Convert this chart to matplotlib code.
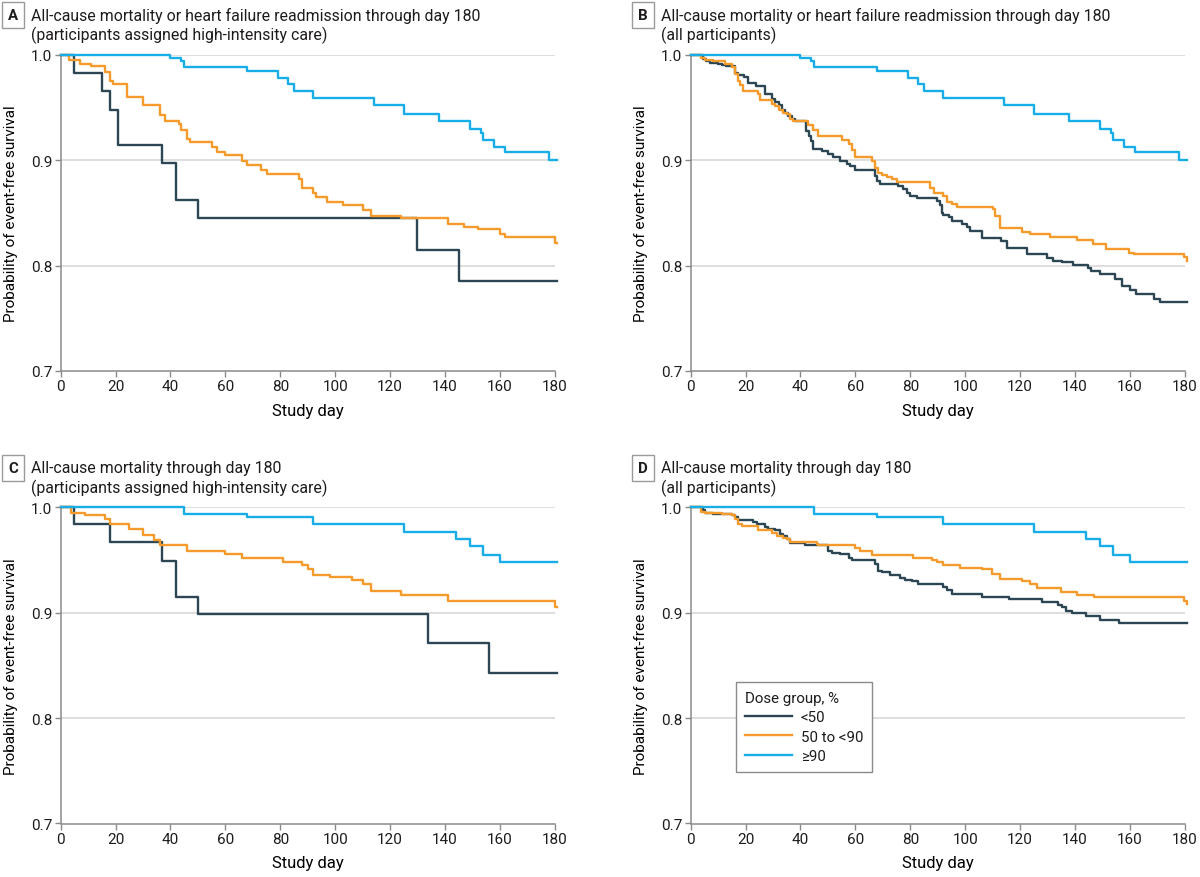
import matplotlib.pyplot as plt
from matplotlib.lines import Line2D

# Panel A / B / C / D : Kaplan-Meier style step data (day, survival)
# >=90 % dose group is the same in A and B, and in C and D
days_hi_ab = [0, 40, 44, 45, 68, 79, 83, 85, 92, 114, 125, 138, 149, 153, 154, 158, 162, 178, 181]
surv_hi_ab = [1.0, 0.997, 0.994, 0.988, 0.985, 0.978, 0.972, 0.966, 0.959, 0.952, 0.944, 0.937,
              0.930, 0.926, 0.919, 0.912, 0.908, 0.900, 0.900]

days_hi_cd = [0, 45, 68, 92, 125, 144, 149, 154, 160, 181]
surv_hi_cd = [1.0, 0.994, 0.991, 0.984, 0.977, 0.970, 0.963, 0.955, 0.948, 0.948]

days_a_low = [0, 5, 15, 18, 21, 37, 42, 50, 130, 145, 181]
surv_a_low = [1.0, 0.983, 0.966, 0.948, 0.914, 0.897, 0.862, 0.845, 0.815, 0.785, 0.785]

days_a_mid = [0, 3, 7, 11, 16, 18, 19, 24, 30, 36, 38, 43, 44, 46, 47, 55, 57, 60, 66, 68, 73, 75,
              87, 88, 92, 93, 97, 103, 110, 113, 124, 141, 147, 152, 160, 162, 180, 181]
surv_a_mid = [1.0, 0.995, 0.991, 0.989, 0.984, 0.975, 0.972, 0.960, 0.952, 0.943, 0.937, 0.934,
              0.929, 0.920, 0.917, 0.912, 0.908, 0.905, 0.899, 0.895, 0.891, 0.887, 0.882, 0.874,
              0.869, 0.865, 0.860, 0.857, 0.853, 0.847, 0.845, 0.839, 0.837, 0.835, 0.830, 0.827,
              0.821, 0.821]

days_b_low = [0, 4.6, 5.5, 7, 10, 11.5, 13, 16, 17.4, 19.6, 21, 23.7, 27, 29.5, 30.7, 32, 33.2,
              34.4, 35.6, 36.8, 38, 42, 43, 44, 44.7, 47.8, 50, 52, 54.4, 57, 58, 60, 67, 67.8,
              69, 75.7, 77.5, 78.7, 80, 82.4, 89.7, 90.9, 91.5, 92.1, 94, 95.2, 98.8, 100.6, 101.8,
              106, 113, 115.2, 122.4, 129.7, 132, 135.2, 139.4, 144.8, 146, 149, 154.5, 157, 160,
              162.4, 168.7, 170.9, 181]
surv_b_low = [1.0, 0.996, 0.994, 0.992, 0.991, 0.990, 0.989, 0.983, 0.981, 0.979, 0.973, 0.970,
              0.963, 0.958, 0.955, 0.952, 0.948, 0.945, 0.942, 0.939, 0.937, 0.928, 0.923, 0.918,
              0.911, 0.909, 0.906, 0.903, 0.899, 0.896, 0.894, 0.891, 0.885, 0.880, 0.877, 0.875,
              0.873, 0.869, 0.866, 0.864, 0.861, 0.857, 0.850, 0.848, 0.846, 0.842, 0.839, 0.837,
              0.833, 0.826, 0.823, 0.817, 0.811, 0.807, 0.804, 0.803, 0.801, 0.798, 0.795, 0.792,
              0.787, 0.781, 0.777, 0.773, 0.768, 0.765, 0.765]

days_b_mid = [0, 3.8, 5.2, 8.3, 12.5, 14.9, 16.2, 17.1, 18, 19.2, 24.4, 25.3, 29.8, 30.7, 32,
              33.8, 35, 36.2, 37.4, 42.9, 44.7, 46.3, 55, 57.5, 58.7, 59.9, 66, 67.2, 68.4, 69.6,
              71.4, 73.3, 75.1, 87.2, 88.5, 91.9, 93.3, 95.2, 97, 110.3, 110.9, 112.7, 120.6, 123.6,
              130.9, 140.6, 146.7, 151.5, 159.8, 161.5, 179.6, 181]
surv_b_mid = [1.0, 0.997, 0.995, 0.994, 0.991, 0.988, 0.982, 0.975, 0.971, 0.966, 0.963, 0.957,
              0.953, 0.951, 0.948, 0.945, 0.944, 0.939, 0.937, 0.933, 0.929, 0.923, 0.919, 0.915,
              0.910, 0.903, 0.899, 0.893, 0.888, 0.886, 0.884, 0.882, 0.879, 0.874, 0.869, 0.866,
              0.860, 0.858, 0.856, 0.854, 0.847, 0.836, 0.832, 0.830, 0.827, 0.824, 0.820, 0.816,
              0.812, 0.811, 0.808, 0.804]

days_c_low = [0, 5, 18, 37, 42, 50, 134, 156, 181]
surv_c_low = [1.0, 0.984, 0.967, 0.949, 0.915, 0.899, 0.871, 0.843, 0.843]

days_c_mid = [0, 3.6, 9, 16, 18, 25, 30, 34, 36, 46, 60, 66, 81, 88, 90, 92, 98, 106, 110, 113,
              124, 141, 180, 181]
surv_c_mid = [1.0, 0.995, 0.993, 0.989, 0.984, 0.979, 0.974, 0.969, 0.964, 0.959, 0.956, 0.952,
              0.948, 0.945, 0.941, 0.936, 0.934, 0.931, 0.927, 0.921, 0.917, 0.911, 0.905, 0.905]

days_d_low = [0, 4.6, 5.2, 8.3, 15, 16.2, 17.4, 22.8, 24.1, 27.1, 28.3, 30.7, 32.6, 33.8, 35, 36.2,
              41.7, 50.2, 51.4, 54.4, 57.5, 58.7, 67, 68.2, 69.6, 72.7, 76.3, 78.1, 80.6, 83, 91.8,
              93.3, 95.1, 106, 116.1, 127.9, 134, 135.2, 136.8, 138.8, 144.1, 149.2, 156.1, 181]
surv_d_low = [1.0, 0.997, 0.995, 0.994, 0.993, 0.991, 0.988, 0.986, 0.984, 0.981, 0.979, 0.978,
              0.975, 0.973, 0.970, 0.966, 0.964, 0.959, 0.957, 0.956, 0.952, 0.950, 0.946, 0.940,
              0.939, 0.936, 0.933, 0.931, 0.930, 0.927, 0.924, 0.922, 0.918, 0.915, 0.913, 0.910,
              0.907, 0.905, 0.902, 0.900, 0.897, 0.893, 0.890, 0.890]

days_d_mid = [0, 3.8, 5.2, 11.3, 14.9, 16.2, 17.1, 18.6, 24.7, 29.8, 31.3, 33.8, 35, 36.2, 45.9,
              46.5, 59.9, 61.7, 66, 80.9, 87.8, 89.6, 91.8, 98.1, 106, 109.7, 112.7, 120.6, 123.7,
              126.1, 134.8, 140.7, 147, 179.8, 181]
surv_d_mid = [1.0, 0.996, 0.995, 0.994, 0.993, 0.989, 0.984, 0.982, 0.978, 0.976, 0.973, 0.971,
              0.970, 0.967, 0.965, 0.964, 0.961, 0.959, 0.955, 0.952, 0.950, 0.948, 0.945, 0.942,
              0.941, 0.937, 0.932, 0.930, 0.927, 0.923, 0.920, 0.917, 0.915, 0.911, 0.908]

panel_letters = ["A", "B", "C", "D"]
title_line1 = [
    "All-cause mortality or heart failure readmission through day 180",
    "All-cause mortality or heart failure readmission through day 180",
    "All-cause mortality through day 180",
    "All-cause mortality through day 180",
]
title_line2 = [
    "(participants assigned high-intensity care)",
    "(all participants)",
    "(participants assigned high-intensity care)",
    "(all participants)",
]
group_labels = ["<50", "50 to <90", "≥90"]
x_ticks = [0, 20, 40, 60, 80, 100, 120, 140, 160, 180]
y_ticks = [0.7, 0.8, 0.9, 1.0]

DARK = "#2c4753"
ORANGE = "#f49b2c"
BLUE = "#17aee8"
TXT = "#1e1b1c"
GRID = "#d4d4d4"
SPINE = "#8a8a8a"
colors = [DARK, ORANGE, BLUE]

plt.rcParams["font.family"] = ["Roboto", "DejaVu Sans"]
plt.rcParams["font.size"] = 11
plt.rcParams["text.color"] = TXT

panel_data = [
    [(days_a_low, surv_a_low), (days_a_mid, surv_a_mid), (days_hi_ab, surv_hi_ab)],
    [(days_b_low, surv_b_low), (days_b_mid, surv_b_mid), (days_hi_ab, surv_hi_ab)],
    [(days_c_low, surv_c_low), (days_c_mid, surv_c_mid), (days_hi_cd, surv_hi_cd)],
    [(days_d_low, surv_d_low), (days_d_mid, surv_d_mid), (days_hi_cd, surv_hi_cd)],
]

W, H = 1200, 878
fig = plt.figure(figsize=(12, 8.78), dpi=100)

# pixel boxes: (left, right, top, bottom) of the plotting area
boxes = [(60.7, 554.7, 55.7, 372.0), (690.7, 1184.7, 55.7, 372.0),
         (60.7, 554.7, 508.3, 824.5), (690.7, 1184.7, 508.3, 824.5)]
title_pos = [(13, 31, 16), (643, 661, 16), (13, 31, 469), (643, 661, 469)]

axes = []
for i, (l, r, t, b) in enumerate(boxes):
    ax = fig.add_axes([l / W, 1 - b / H, (r - l) / W, (b - t) / H])
    axes.append(ax)
    for y in [0.8, 0.9, 1.0]:
        ax.axhline(y, color=GRID, lw=1.1, zorder=0)
    for (d, s), c in zip(panel_data[i], colors):
        ax.step(d, s, where="post", color=c, lw=1.7, clip_on=False, zorder=3)
    ax.set_xlim(0, 180)
    ax.set_ylim(0.7, 1.0)
    ax.set_xticks(x_ticks)
    ax.set_yticks(y_ticks)
    ax.set_yticklabels([f"{v:.1f}" for v in y_ticks])
    for side in ["top", "right"]:
        ax.spines[side].set_visible(False)
    for side in ["left", "bottom"]:
        ax.spines[side].set_color(SPINE)
        ax.spines[side].set_linewidth(1.1)
    ax.tick_params(length=4, width=1, color=SPINE, labelsize=11, labelcolor=TXT, pad=2)
    ax.set_xlabel("Study day", fontsize=12)
    ax.xaxis.set_label_coords(0.5, -0.1)
    ax.set_ylabel("Probability of event-free survival", fontsize=11)
    ax.yaxis.set_label_coords(-0.086, 0.5)

    bx, tx, ty = title_pos[i]
    fig.text(bx / W, 1 - ty / H, panel_letters[i], ha="center", va="center",
             fontsize=10.8, weight="bold",
             bbox=dict(boxstyle="square,pad=0.4", fc="white", ec="#9a9a9a", lw=1))
    fig.text(tx / W, 1 - ty / H, title_line1[i], ha="left", va="center", fontsize=11.4)
    fig.text(tx / W, 1 - (ty + 19) / H, title_line2[i], ha="left", va="center", fontsize=11.4)

handles = [Line2D([0], [0], color=c, lw=1.7) for c in colors]
leg = axes[3].legend(handles, group_labels, title="Dose group, %", loc="upper left",
                     bbox_to_anchor=(0.092, 0.4475), borderaxespad=0, fancybox=False,
                     edgecolor="#8a8a8a", framealpha=1, fontsize=10.8, title_fontsize=10.8,
                     handlelength=3.1, handletextpad=0.6, labelspacing=0.35,
                     borderpad=0.6, alignment="left")
leg.get_frame().set_linewidth(1)

fig.savefig("out.png", dpi=100)
